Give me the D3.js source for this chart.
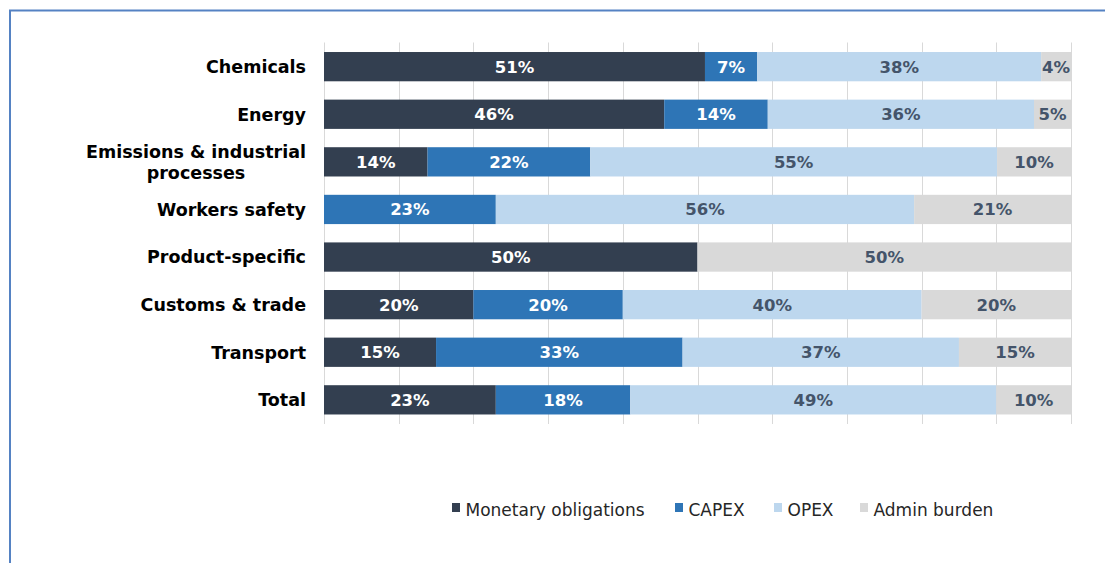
<!DOCTYPE html>
<html>
<head>
<meta charset="utf-8">
<script src="https://cdn.jsdelivr.net/npm/d3@7"></script>
<style>
  body { margin: 0; background: #fff; }
  svg { display: block; font-family: "DejaVu Sans", Verdana, sans-serif; }
</style>
</head>
<body>
<div id="chart"></div>
<script>
// data (labels are the rounded shares, bars are normalised to 100%)
var categories = ["Chemicals", "Energy", "Emissions & industrial processes", "Workers safety",
                  "Product-specific", "Customs & trade", "Transport", "Total"];
var categoryLines = [["Chemicals"], ["Energy"], ["Emissions & industrial", "processes"], ["Workers safety"],
                     ["Product-specific"], ["Customs & trade"], ["Transport"], ["Total"]];
var seriesNames = ["Monetary obligations", "CAPEX", "OPEX", "Admin burden"];
var monetary = [51, 46, 14, 0, 50, 20, 15, 23];
var capex    = [7, 14, 22, 23, 0, 20, 33, 18];
var opex     = [38, 36, 55, 56, 0, 40, 37, 49];
var admin    = [4, 5, 10, 21, 50, 20, 15, 10];
var xTicks   = [0, 0.1, 0.2, 0.3, 0.4, 0.5, 0.6, 0.7, 0.8, 0.9, 1];

var colors     = ["#333f50", "#2e75b6", "#bdd7ee", "#d9d9d9"];
var textColors = ["#ffffff", "#ffffff", "#44546a", "#44546a"];

var width = 1105, height = 563;
var margin = {top: 42.5, bottom: 139, left: 324, right: 34};

var svg = d3.select("#chart").append("svg")
            .attr("width", width)
            .attr("height", height);

// outer frame (runs off the right and bottom edges)
svg.append("rect")
   .attr("x", 10).attr("y", 10.5)
   .attr("width", width + 20).attr("height", height + 20)
   .style("fill", "none")
   .style("stroke", "#5582c3")
   .style("stroke-width", 2);

var x = d3.scaleLinear()
          .domain([0, 1])
          .range([margin.left, width - margin.right]);
var y = d3.scaleBand()
          .domain(categories)
          .range([margin.top, height - margin.bottom])
          .paddingInner(0.385)
          .paddingOuter(0.2);

// gridlines
svg.append("g")
   .selectAll("line")
   .data(xTicks)
   .join("line")
   .attr("x1", function(d) { return Math.round(x(d)) + 0.5; })
   .attr("x2", function(d) { return Math.round(x(d)) + 0.5; })
   .attr("y1", margin.top)
   .attr("y2", height - margin.bottom)
   .style("stroke", "#d9d9d9")
   .style("stroke-width", 1);

var rows = categories.map(function(c, i) {
    var vals = [monetary[i], capex[i], opex[i], admin[i]];
    var total = d3.sum(vals);
    var row = {category: c};
    seriesNames.forEach(function(s, j) { row[s] = vals[j] / total; row[s + "_label"] = vals[j]; });
    return row;
});

var stack = d3.stack().keys(seriesNames);
var layers = stack(rows);

var layerG = svg.append("g")
                .selectAll("g")
                .data(layers)
                .join("g")
                .style("fill", function(d, i) { return colors[i]; });

layerG.selectAll("rect")
      .data(function(d) { return d; })
      .join("rect")
      .attr("x", function(d) { return x(d[0]); })
      .attr("width", function(d) { return x(d[1]) - x(d[0]); })
      .attr("y", function(d) { return y(d.data.category); })
      .attr("height", y.bandwidth());

// segment labels
layerG.each(function(layer, i) {
    d3.select(this).selectAll("text")
      .data(layer.filter(function(d) { return d.data[layer.key + "_label"] > 0; }))
      .join("text")
      .attr("x", function(d) { return (x(d[0]) + x(d[1])) / 2; })
      .attr("y", function(d) { return y(d.data.category) + y.bandwidth() / 2; })
      .attr("dy", "0.36em")
      .attr("text-anchor", "middle")
      .style("fill", textColors[i])
      .style("font-weight", "bold")
      .style("font-size", "16.5px")
      .text(function(d) { return d.data[layer.key + "_label"] + "%"; });
});

// category labels, multi-line ones centred on their longest line
var labelRight = 306;
categories.forEach(function(c, i) {
    var lines = categoryLines[i];
    var t = svg.append("text")
               .style("font-weight", "bold")
               .style("font-size", "17.5px")
               .style("fill", "#000");
    var cy = y(c) + y.bandwidth() / 2;
    var lineH = 21;
    lines.forEach(function(l, k) {
        t.append("tspan")
         .attr("y", cy + (k - (lines.length - 1) / 2) * lineH)
         .attr("dy", "0.36em")
         .text(l);
    });
    var maxW = 0;
    t.selectAll("tspan").each(function() { maxW = Math.max(maxW, this.getComputedTextLength()); });
    t.selectAll("tspan")
     .attr("x", labelRight - maxW / 2)
     .attr("text-anchor", "middle");
});

// legend
var legendX = [452, 675, 774, 860];
var legend = svg.append("g")
                .selectAll("g")
                .data(seriesNames)
                .join("g")
                .attr("transform", function(d, i) { return "translate(" + legendX[i] + ",503)"; });
legend.append("rect")
      .attr("width", 8).attr("height", 9)
      .style("fill", function(d, i) { return colors[i]; });
legend.append("text")
      .attr("x", 13.5)
      .attr("y", 12.5)
      .style("font-size", "17px")
      .style("fill", "#262626")
      .text(function(d) { return d; });
</script>
</body>
</html>
